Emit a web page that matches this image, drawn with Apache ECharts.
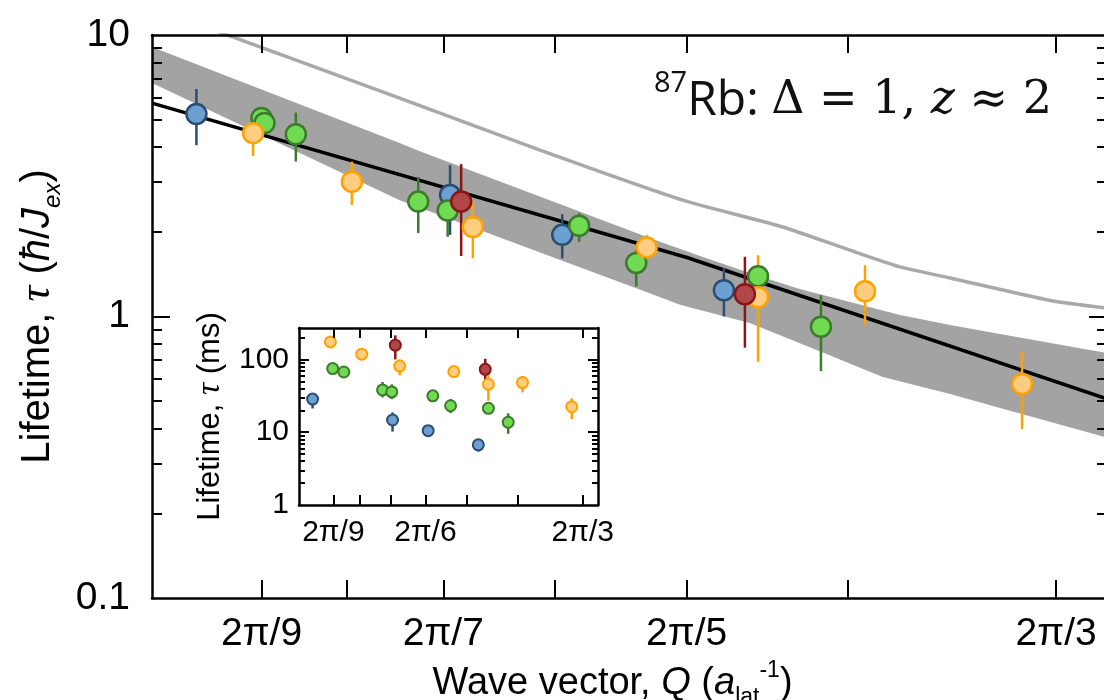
<!DOCTYPE html>
<html lang="en">
<head>
<meta charset="UTF-8" />
<title>Lifetime vs wave vector</title>
<style>
  html, body { margin: 0; padding: 0; background: #fff; }
  #main { width: 1104px; height: 700px; }
</style>
</head>
<body>
<div id="main"></div>
<script src="https://cdn.jsdelivr.net/npm/echarts@6/dist/echarts.min.js"></script>
<script>
/* globals echarts */
var SANS = '"Liberation Sans", Arial, sans-serif';
var SERIF = '"DejaVu Serif", "Liberation Serif", serif';

// wave vector ticks sit at Q = 2π/n
var tickN = [9, 8, 7, 6, 5, 4, 3];
var mainLabelN = [9, 7, 5, 3];
var insetLabelN = [9, 6, 3];

var mainYLabels = [0.1, 1, 10];
var mainYMajor = [1];
var mainYMinor = [0.2, 0.3, 0.4, 0.5, 0.6, 0.7, 0.8, 0.9, 2, 3, 4, 5, 6, 7, 8, 9];
var insetYLabels = [1, 10, 100];
var insetYMajor = [10, 100];
var insetYMinor = [2, 3, 4, 5, 6, 7, 8, 9, 20, 30, 40, 50, 60, 70, 80, 90, 200];

// main panel, lifetime in hbar/J_ex : [Q, tau, low, high]
var mainBlue = [
  [0.638, 5.24, 4.06, 6.43],
  [0.906, 2.70, 1.95, 3.45],
  [1.058, 1.95, 1.61, 2.31],
  [1.323, 1.24, 1.00, 1.49]
];
var mainGreen = [
  [0.698, 5.07, 4.80, 5.30],
  [0.701, 4.87, 4.60, 5.10],
  [0.732, 4.44, 3.55, 5.30],
  [0.867, 2.56, 1.98, 3.13],
  [0.903, 2.38, 1.92, 2.81],
  [1.083, 2.10, 1.84, 2.33],
  [1.172, 1.55, 1.28, 1.72],
  [1.387, 1.39, 1.25, 1.52],
  [1.513, 0.92, 0.64, 1.19]
];
var mainOrange = [
  [0.690, 4.48, 3.72, 5.20],
  [0.791, 3.01, 2.49, 3.55],
  [0.935, 2.08, 1.61, 2.56],
  [1.189, 1.76, 1.63, 1.95],
  [1.387, 1.17, 0.69, 1.65],
  [1.608, 1.23, 0.93, 1.52],
  [1.998, 0.576, 0.398, 0.75]
];
var mainRed = [
  [0.920, 2.56, 1.64, 3.48],
  [1.362, 1.20, 0.775, 1.63]
];

// fitted power law and the upper theory curve : [Q, tau]
var fitLine = [[0.6, 5.73], [1.257, 1.62], [2.247, 0.51]];
var theoryLine = [
  [0.654, 10.4], [0.845, 5.97], [1.026, 3.90], [1.250, 2.59], [1.435, 2.08],
  [1.575, 1.72], [1.688, 1.50], [1.809, 1.37], [2.077, 1.14], [2.250, 1.07]
];
// shaded band edges : [Q, tau]
var bandUpper = [
  [0.6, 9.07], [0.845, 4.13], [0.865, 3.90], [1.194, 1.90], [1.280, 1.64],
  [1.371, 1.427], [1.469, 1.252], [1.575, 1.126], [1.688, 1.012], [1.809, 0.933],
  [1.938, 0.867], [2.250, 0.740]
];
var bandLower = [
  [0.6, 6.75], [0.845, 2.59], [1.194, 1.209], [1.245, 1.10], [1.371, 0.948],
  [1.504, 0.760], [1.648, 0.610], [1.809, 0.530], [1.938, 0.473], [2.250, 0.371]
];

// inset, lifetime in ms : [Q, tau, low, high]
var insetBlue = [
  [0.637, 28.5, 21.2, 34.4],
  [0.906, 14.7, 10.2, 18.7],
  [1.060, 10.5, 9.4, 11.7],
  [1.322, 6.7, 5.4, 7.6]
];
var insetGreen = [
  [0.696, 74.7, 66, 84],
  [0.731, 67.1, 56, 76],
  [0.867, 38.1, 30.0, 49],
  [0.903, 35.8, 28.5, 45.5],
  [1.082, 31.6, 28.5, 35],
  [1.170, 23.1, 18.3, 28.5],
  [1.382, 21.3, 19, 23.5],
  [1.508, 13.7, 9.5, 18.2]
];
var insetOrange = [
  [0.689, 174, 144, 204],
  [0.791, 118, 98, 140],
  [0.935, 81, 60.5, 100],
  [1.187, 68, 61, 75],
  [1.382, 45.6, 27, 65.9],
  [1.606, 48.1, 35.2, 59.2],
  [1.995, 22.4, 15.2, 29.1]
];
var insetRed = [
  [0.917, 157, 100, 214],
  [1.363, 73.1, 48, 102]
];

var COLORS = {
  blue: { fill: '#6c9fd2', edge: '#2b4d70', bar: '#2b4d70' },
  green: { fill: '#70db52', edge: '#3c7a2c', bar: '#3c7a2c' },
  orange: { fill: '#ffcd80', edge: '#ffa200', bar: '#ffa200' },
  red: { fill: '#b04848', edge: '#8b1515', bar: '#8b1515' }
};

function twoPi(n) {
  return 2 * Math.PI / n;
}
function qLabel(value) {
  return '2π/' + Math.round(2 * Math.PI / value);
}
var qTicks = tickN.map(twoPi);

function qAxis(grid, position, range, tickLen, labelN, fontSize, margin, line) {
  var axis = {
    type: 'log', gridIndex: grid, position: position, min: range[0], max: range[1], z: 10,
    axisLine: { show: line, onZero: false, lineStyle: { color: '#000', width: 2.5 } },
    splitLine: { show: false },
    axisTick: { show: true, inside: true, length: tickLen, customValues: qTicks,
      lineStyle: { color: '#000', width: 2 } },
    axisLabel: { show: false }
  };
  if (labelN) {
    axis.axisLabel = { show: true, customValues: labelN.map(twoPi), formatter: qLabel,
      fontFamily: SANS, fontSize: fontSize, color: '#000', margin: margin };
  }
  return axis;
}

function tauAxis(grid, position, range, ticks, tickLen, labels, fontSize, margin, line) {
  var axis = {
    type: 'log', gridIndex: grid, position: position, min: range[0], max: range[1], z: 10,
    axisLine: { show: line, onZero: false, lineStyle: { color: '#000', width: 2.5 } },
    splitLine: { show: false },
    axisTick: { show: true, inside: true, length: tickLen, customValues: ticks,
      lineStyle: { color: '#000', width: 2 } },
    axisLabel: { show: false }
  };
  if (labels) {
    axis.axisLabel = { show: true, customValues: labels, fontFamily: SANS, fontSize: fontSize,
      color: '#000', margin: margin };
  }
  return axis;
}

function errorSeries(data, xi, yi, color, width) {
  return {
    type: 'custom', xAxisIndex: xi, yAxisIndex: yi, z: 3, silent: true,
    data: data.map(function (d) { return [d[0], d[2], d[3]]; }),
    encode: { x: 0, y: [1, 2] },
    renderItem: function (params, api) {
      var lo = api.coord([api.value(0), api.value(1)]);
      var hi = api.coord([api.value(0), api.value(2)]);
      return {
        type: 'line',
        shape: { x1: lo[0], y1: lo[1], x2: hi[0], y2: hi[1] },
        style: { stroke: color, lineWidth: width }
      };
    }
  };
}

function dotSeries(data, xi, yi, c, size, bw, z) {
  return {
    type: 'scatter', xAxisIndex: xi, yAxisIndex: yi, z: z, silent: true,
    symbol: 'circle', symbolSize: size,
    data: data.map(function (d) { return [d[0], d[1]]; }),
    itemStyle: { color: c.fill, borderColor: c.edge, borderWidth: bw, opacity: 1 }
  };
}

var mainX = [0.6, 2.247];
var insetX = [0.6, 2.24];
var mainY = [0.1, 10];
var insetY = [1, 270];

var groups = [
  [mainBlue, insetBlue, COLORS.blue],
  [mainGreen, insetGreen, COLORS.green],
  [mainOrange, insetOrange, COLORS.orange],
  [mainRed, insetRed, COLORS.red]
];

var series = [
  {
    type: 'custom', xAxisIndex: 0, yAxisIndex: 0, z: 1, silent: true, clip: true,
    data: bandUpper,
    renderItem: function (params, api) {
      if (params.dataIndex !== 0) return null;
      var pts = bandUpper.concat(bandLower.slice().reverse()).map(function (p) {
        return api.coord(p);
      });
      return { type: 'polygon', shape: { points: pts }, style: { fill: '#a3a3a3' } };
    }
  },
  {
    type: 'line', xAxisIndex: 0, yAxisIndex: 0, z: 2, silent: true, symbol: 'none',
    smooth: 0.2, data: theoryLine, lineStyle: { color: '#a9a9a9', width: 3.5 }
  },
  {
    type: 'line', xAxisIndex: 0, yAxisIndex: 0, z: 2, silent: true, symbol: 'none',
    data: fitLine, lineStyle: { color: '#000', width: 3.5 }
  }
];
groups.forEach(function (g) {
  series.push(errorSeries(g[0], 0, 0, g[2].bar, 2.5));
  series.push(errorSeries(g[1], 2, 4, g[2].bar, 2.5));
});
groups.forEach(function (g, i) {
  series.push(dotSeries(g[0], 0, 0, g[2], 20, 2.5, 4 + i));
  series.push(dotSeries(g[1], 2, 4, g[2], 11, 2, 4 + i));
});

var option = {
  animation: false,
  backgroundColor: '#fff',
  title: {
    left: 654, top: 69, padding: 0,
    text: '{sup|87}{rb|Rb: }{m|Δ = 1, }{mi|z}{m| ≈ 2}',
    textStyle: {
      fontWeight: 'normal',
      rich: {
        sup: { fontFamily: '"Open Sans", sans-serif', fontWeight: 'normal', fontSize: 29,
          color: '#111', verticalAlign: 'top', lineHeight: 64 },
        rb: { fontFamily: '"Open Sans", sans-serif', fontWeight: 'normal', fontSize: 48,
          color: '#111', lineHeight: 64 },
        m: { fontFamily: SERIF, fontWeight: 'normal', fontSize: 46, color: '#111', lineHeight: 64 },
        mi: { fontFamily: SERIF, fontWeight: 'normal', fontStyle: 'italic', fontSize: 46,
          color: '#111', lineHeight: 64 }
      }
    }
  },
  grid: [
    { left: 152, top: 35, right: -3, bottom: 102, containLabel: false, outerBoundsMode: 'none' },
    { left: 299, top: 328, width: 299, height: 177, show: true, backgroundColor: '#fff',
      borderWidth: 0, containLabel: false, outerBoundsMode: 'none' }
  ],
  xAxis: [
    Object.assign(qAxis(0, 'bottom', mainX, 18, mainLabelN, 39, 17, true), {
      name: 'Wave vector, {i|Q} ({i|a}{sub|lat}{sup|-1})',
      nameLocation: 'middle', nameGap: 48,
      nameTextStyle: {
        fontFamily: SANS, fontSize: 38, color: '#000', lineHeight: 50, padding: [0, 34, 0, 0],
        rich: {
          i: { fontFamily: SANS, fontStyle: 'italic', fontSize: 38, color: '#000', lineHeight: 50 },
          sub: { fontFamily: SANS, fontSize: 23, color: '#000', verticalAlign: 'bottom', lineHeight: 50 },
          sup: { fontFamily: SANS, fontSize: 23, color: '#000', verticalAlign: 'top', lineHeight: 50 }
        }
      }
    }),
    qAxis(0, 'top', mainX, 18, null, 0, 0, true),
    qAxis(1, 'bottom', insetX, 10, insetLabelN, 30, 13, true),
    qAxis(1, 'top', insetX, 10, null, 0, 0, true)
  ],
  yAxis: [
    Object.assign(tauAxis(0, 'left', mainY, mainYMinor, 10, mainYLabels, 39, 22, true), {
      name: 'Lifetime, {tau|τ} ({it|ħ}/{it|J}{sub|ex})',
      nameLocation: 'middle', nameRotate: 90, nameGap: 80,
      nameTextStyle: {
        fontFamily: SANS, fontSize: 40, color: '#000', lineHeight: 54,
        rich: {
          tau: { fontFamily: '"Liberation Serif", serif', fontStyle: 'italic', fontSize: 44,
            color: '#000', lineHeight: 54 },
          it: { fontFamily: SANS, fontStyle: 'italic', fontSize: 40, color: '#000', lineHeight: 54 },
          sub: { fontFamily: SANS, fontStyle: 'italic', fontSize: 24, color: '#000',
            verticalAlign: 'bottom', lineHeight: 54 }
        }
      }
    }),
    tauAxis(0, 'left', mainY, mainYMajor, 18, null, 0, 0, false),
    tauAxis(0, 'right', mainY, mainYMinor, 10, null, 0, 0, true),
    tauAxis(0, 'right', mainY, mainYMajor, 18, null, 0, 0, false),
    Object.assign(tauAxis(1, 'left', insetY, insetYMinor, 6, insetYLabels, 30, 10, true), {
      name: 'Lifetime, {tau|τ} (ms)',
      nameLocation: 'middle', nameRotate: 90, nameGap: 70,
      nameTextStyle: {
        fontFamily: SANS, fontSize: 31, color: '#000', lineHeight: 38,
        rich: {
          tau: { fontFamily: '"Liberation Serif", serif', fontStyle: 'italic', fontSize: 34,
            color: '#000', lineHeight: 38 }
        }
      }
    }),
    tauAxis(1, 'left', insetY, insetYMajor, 10, null, 0, 0, false),
    tauAxis(1, 'right', insetY, insetYMinor, 6, null, 0, 0, true),
    tauAxis(1, 'right', insetY, insetYMajor, 10, null, 0, 0, false)
  ],
  series: series
};

var chart = echarts.init(document.getElementById('main'), null, { renderer: 'canvas' });
chart.setOption(option);
</script>
</body>
</html>
